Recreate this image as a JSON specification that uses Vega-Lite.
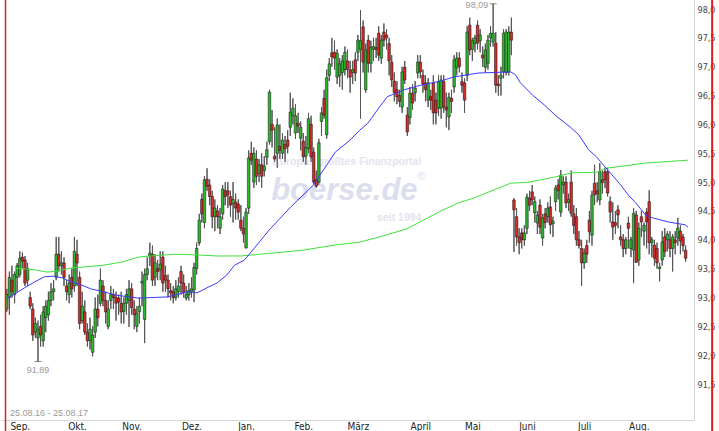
{
"$schema": "https://vega.github.io/schema/vega-lite/v6.json",
"width": 693, "height": 420,
"autosize": {"type": "none"},
"padding": {"left": 1, "top": 0, "right": 25, "bottom": 11},
"background": "white",
"config": {"view": {"stroke": null}, "font": "Liberation Sans", "locale": {"number": {"decimal": ",", "thousands": ".", "grouping": [3], "currency": ["", " €"]}}, "axis": {"labelOverlap": false}},
"data": {"values": [{"k": 1}]},
"resolve": {"axis": {"x": "independent", "y": "independent"}},
"datasets": {
"candles": [
{"i":0,"o":92.80,"h":93.15,"l":92.75,"c":93.05},{"i":1,"o":93.00,"h":93.45,"l":92.70,"c":93.35},{"i":2,"o":93.30,"h":93.55,"l":93.00,"c":93.10},{"i":3,"o":93.05,"h":93.45,"l":92.90,"c":93.40},{"i":4,"o":93.35,"h":93.60,"l":93.10,"c":93.55},
{"i":5,"o":93.40,"h":93.80,"l":93.35,"c":93.68},{"i":6,"o":93.70,"h":93.78,"l":93.50,"c":93.63},{"i":7,"o":93.65,"h":93.72,"l":93.20,"c":93.25},{"i":8,"o":93.30,"h":93.60,"l":93.20,"c":93.50},{"i":9,"o":93.00,"h":93.10,"l":92.80,"c":92.85},
{"i":10,"o":92.80,"h":92.90,"l":92.25,"c":92.35},{"i":11,"o":92.40,"h":92.65,"l":92.30,"c":92.55},{"i":12,"o":92.30,"h":92.60,"l":91.89,"c":92.45},{"i":13,"o":92.50,"h":92.70,"l":92.15,"c":92.35},{"i":14,"o":92.25,"h":92.85,"l":92.15,"c":92.75},
{"i":15,"o":92.65,"h":92.95,"l":92.40,"c":92.85},{"i":16,"o":92.70,"h":93.10,"l":92.60,"c":92.95},{"i":17,"o":92.95,"h":93.25,"l":92.85,"c":93.10},{"i":18,"o":93.10,"h":93.30,"l":92.95,"c":93.15},{"i":19,"o":93.35,"h":94.05,"l":93.30,"c":93.75},
{"i":20,"o":93.75,"h":94.05,"l":93.45,"c":93.55},{"i":21,"o":93.55,"h":93.80,"l":93.40,"c":93.60},{"i":22,"o":93.60,"h":93.70,"l":93.20,"c":93.35},{"i":23,"o":93.20,"h":93.30,"l":92.95,"c":93.10},{"i":24,"o":93.05,"h":93.40,"l":92.90,"c":93.25},
{"i":25,"o":93.35,"h":93.50,"l":93.00,"c":93.15},{"i":26,"o":93.20,"h":94.05,"l":93.10,"c":93.80},{"i":27,"o":93.75,"h":94.00,"l":93.20,"c":93.60},{"i":28,"o":93.35,"h":93.45,"l":92.45,"c":92.55},{"i":29,"o":92.60,"h":93.10,"l":92.55,"c":92.85},
{"i":30,"o":92.75,"h":92.95,"l":92.35,"c":92.40},{"i":31,"o":92.40,"h":92.55,"l":92.15,"c":92.25},{"i":32,"o":92.25,"h":92.65,"l":92.10,"c":92.45},{"i":33,"o":92.05,"h":92.50,"l":91.98,"c":92.35},{"i":34,"o":92.40,"h":93.00,"l":92.30,"c":92.80},
{"i":35,"o":92.80,"h":93.05,"l":92.50,"c":92.65},{"i":36,"o":92.90,"h":93.50,"l":92.85,"c":93.30},{"i":37,"o":93.20,"h":93.30,"l":92.85,"c":92.95},{"i":38,"o":92.95,"h":93.10,"l":92.55,"c":92.75},{"i":39,"o":92.50,"h":92.95,"l":92.45,"c":92.80},
{"i":40,"o":92.95,"h":93.20,"l":92.80,"c":93.05},{"i":41,"o":93.05,"h":93.15,"l":92.80,"c":93.00},{"i":42,"o":93.00,"h":93.10,"l":92.60,"c":92.90},{"i":43,"o":92.99,"h":93.05,"l":92.70,"c":92.92},{"i":44,"o":92.90,"h":93.10,"l":92.55,"c":92.75},
{"i":45,"o":92.76,"h":93.00,"l":92.55,"c":92.90},{"i":46,"o":92.90,"h":93.15,"l":92.70,"c":93.05},{"i":47,"o":92.95,"h":93.30,"l":92.49,"c":93.15},{"i":48,"o":93.15,"h":93.25,"l":92.70,"c":92.82},{"i":49,"o":92.80,"h":92.95,"l":92.45,"c":92.70},
{"i":50,"o":92.50,"h":92.85,"l":92.40,"c":92.73},{"i":51,"o":92.75,"h":93.00,"l":92.55,"c":92.85},{"i":52,"o":93.25,"h":93.45,"l":92.85,"c":93.28},{"i":53,"o":92.62,"h":93.50,"l":92.21,"c":93.40},{"i":54,"o":93.40,"h":93.70,"l":93.30,"c":93.50},
{"i":55,"o":93.72,"h":93.95,"l":93.55,"c":93.77},{"i":56,"o":93.75,"h":93.90,"l":93.20,"c":93.30},{"i":57,"o":93.35,"h":93.75,"l":93.20,"c":93.60},{"i":58,"o":93.50,"h":93.65,"l":93.30,"c":93.45},{"i":59,"o":93.48,"h":93.80,"l":93.30,"c":93.58},
{"i":60,"o":93.70,"h":93.80,"l":93.10,"c":93.25},{"i":61,"o":93.38,"h":93.55,"l":93.10,"c":93.30},{"i":62,"o":93.30,"h":93.40,"l":93.00,"c":93.15},{"i":63,"o":93.12,"h":93.25,"l":92.95,"c":93.08},{"i":64,"o":93.10,"h":93.20,"l":92.90,"c":93.00},
{"i":65,"o":93.00,"h":93.30,"l":92.95,"c":93.15},{"i":66,"o":93.10,"h":93.35,"l":93.00,"c":93.20},{"i":67,"o":93.45,"h":93.55,"l":93.05,"c":93.25},{"i":68,"o":93.25,"h":93.40,"l":93.00,"c":93.08},{"i":69,"o":92.99,"h":93.20,"l":92.95,"c":93.05},
{"i":70,"o":93.05,"h":93.25,"l":92.95,"c":93.12},{"i":71,"o":93.10,"h":93.35,"l":93.00,"c":93.15},{"i":72,"o":93.13,"h":93.60,"l":92.92,"c":93.52},{"i":73,"o":93.50,"h":93.95,"l":93.40,"c":93.85},{"i":74,"o":93.95,"h":94.45,"l":93.90,"c":94.34},
{"i":75,"o":94.70,"h":94.80,"l":94.30,"c":94.45},{"i":76,"o":94.30,"h":95.10,"l":94.20,"c":95.04},{"i":77,"o":95.05,"h":95.24,"l":94.85,"c":94.93},{"i":78,"o":94.95,"h":95.05,"l":94.60,"c":94.75},{"i":79,"o":94.75,"h":94.85,"l":94.20,"c":94.40},
{"i":80,"o":94.40,"h":94.70,"l":94.15,"c":94.55},{"i":81,"o":94.50,"h":94.60,"l":94.20,"c":94.40},{"i":82,"o":94.20,"h":94.55,"l":94.10,"c":94.40},{"i":83,"o":94.45,"h":94.95,"l":94.35,"c":94.88},{"i":84,"o":94.85,"h":95.00,"l":94.60,"c":94.75},
{"i":85,"o":94.85,"h":95.00,"l":94.55,"c":94.78},{"i":86,"o":94.75,"h":94.85,"l":94.40,"c":94.60},{"i":87,"o":94.62,"h":95.00,"l":94.30,"c":94.70},{"i":88,"o":94.65,"h":94.80,"l":94.35,"c":94.55},{"i":89,"o":94.62,"h":94.70,"l":94.35,"c":94.48},
{"i":90,"o":94.34,"h":94.60,"l":94.15,"c":94.20},{"i":91,"o":94.20,"h":94.40,"l":93.95,"c":94.10},{"i":92,"o":93.86,"h":94.55,"l":93.85,"c":94.48},{"i":93,"o":94.55,"h":95.55,"l":94.45,"c":95.42},{"i":94,"o":95.50,"h":95.70,"l":95.30,"c":95.38},
{"i":95,"o":95.00,"h":95.60,"l":94.90,"c":95.50},{"i":96,"o":95.40,"h":95.55,"l":94.95,"c":95.10},{"i":97,"o":95.15,"h":95.40,"l":95.00,"c":95.30},{"i":98,"o":95.30,"h":95.50,"l":94.90,"c":95.10},{"i":99,"o":95.20,"h":95.45,"l":95.10,"c":95.28},
{"i":100,"o":95.43,"h":95.70,"l":95.30,"c":95.56},{"i":101,"o":95.70,"h":96.60,"l":95.65,"c":96.56},{"i":102,"o":96.00,"h":96.25,"l":95.60,"c":95.90},{"i":103,"o":95.45,"h":95.95,"l":95.35,"c":95.40},{"i":104,"o":95.50,"h":96.10,"l":95.25,"c":95.99},
{"i":105,"o":95.62,"h":96.00,"l":95.40,"c":95.55},{"i":106,"o":95.50,"h":95.85,"l":95.40,"c":95.73},{"i":107,"o":95.65,"h":95.80,"l":95.35,"c":95.58},{"i":108,"o":95.73,"h":95.90,"l":95.50,"c":95.62},{"i":109,"o":95.95,"h":96.55,"l":95.80,"c":96.21},
{"i":110,"o":96.15,"h":96.45,"l":96.00,"c":96.28},{"i":111,"o":95.85,"h":96.35,"l":95.75,"c":96.15},{"i":112,"o":96.02,"h":96.20,"l":95.85,"c":95.97},{"i":113,"o":95.76,"h":96.05,"l":95.55,"c":95.95},{"i":114,"o":95.71,"h":95.85,"l":95.35,"c":95.44},
{"i":115,"o":95.45,"h":95.80,"l":95.30,"c":95.60},{"i":116,"o":95.58,"h":96.20,"l":95.50,"c":96.10},{"i":117,"o":96.00,"h":96.15,"l":95.35,"c":95.44},{"i":118,"o":95.52,"h":95.60,"l":94.96,"c":95.00},{"i":119,"o":95.04,"h":95.20,"l":94.90,"c":94.93},
{"i":120,"o":95.00,"h":95.75,"l":94.95,"c":95.68},{"i":121,"o":96.05,"h":96.30,"l":95.80,"c":96.20},{"i":122,"o":96.45,"h":96.60,"l":96.10,"c":96.16},{"i":123,"o":95.82,"h":96.95,"l":95.75,"c":96.81},{"i":124,"o":96.85,"h":97.15,"l":96.75,"c":97.05},
{"i":125,"o":97.24,"h":97.50,"l":97.00,"c":97.17},{"i":126,"o":97.25,"h":97.45,"l":96.95,"c":97.15},{"i":127,"o":96.82,"h":97.30,"l":96.70,"c":97.23},{"i":128,"o":96.85,"h":97.15,"l":96.65,"c":97.05},{"i":129,"o":96.90,"h":97.20,"l":96.60,"c":97.10},
{"i":130,"o":96.95,"h":97.35,"l":96.85,"c":97.25},{"i":131,"o":97.10,"h":97.30,"l":96.80,"c":96.95},{"i":132,"o":96.94,"h":97.10,"l":96.55,"c":96.82},{"i":133,"o":96.90,"h":97.10,"l":96.70,"c":96.95},{"i":134,"o":97.12,"h":97.25,"l":96.75,"c":96.89},
{"i":135,"o":97.25,"h":97.55,"l":97.10,"c":97.46},{"i":136,"o":97.30,"h":97.98,"l":96.10,"c":97.45},{"i":137,"o":97.69,"h":97.80,"l":96.90,"c":97.08},{"i":138,"o":96.60,"h":97.40,"l":96.55,"c":97.29},{"i":139,"o":97.46,"h":97.55,"l":96.90,"c":97.06},
{"i":140,"o":97.06,"h":97.45,"l":96.90,"c":97.34},{"i":141,"o":97.30,"h":97.50,"l":97.10,"c":97.35},{"i":142,"o":97.33,"h":97.50,"l":97.15,"c":97.30},{"i":143,"o":97.58,"h":97.70,"l":97.10,"c":97.20},{"i":144,"o":97.15,"h":97.55,"l":97.05,"c":97.46},
{"i":145,"o":97.60,"h":97.75,"l":97.35,"c":97.46},{"i":146,"o":97.55,"h":97.65,"l":97.30,"c":97.50},{"i":147,"o":97.40,"h":97.50,"l":96.85,"c":97.10},{"i":148,"o":97.08,"h":97.20,"l":96.65,"c":96.77},{"i":149,"o":96.75,"h":96.90,"l":96.40,"c":96.55},
{"i":150,"o":96.60,"h":96.75,"l":96.35,"c":96.48},{"i":151,"o":96.50,"h":96.60,"l":96.30,"c":96.40},{"i":152,"o":96.30,"h":97.00,"l":96.20,"c":96.91},{"i":153,"o":96.99,"h":97.10,"l":96.70,"c":96.77},{"i":154,"o":96.16,"h":96.30,"l":95.80,"c":95.87},
{"i":155,"o":96.12,"h":96.65,"l":96.00,"c":96.54},{"i":156,"o":96.54,"h":96.70,"l":96.25,"c":96.37},{"i":157,"o":96.55,"h":96.75,"l":96.40,"c":96.63},{"i":158,"o":96.89,"h":97.20,"l":96.80,"c":97.08},{"i":159,"o":97.08,"h":97.20,"l":96.80,"c":96.91},
{"i":160,"o":96.85,"h":96.95,"l":96.55,"c":96.70},{"i":161,"o":96.72,"h":96.85,"l":96.40,"c":96.60},{"i":162,"o":96.42,"h":96.80,"l":96.30,"c":96.72},{"i":163,"o":96.48,"h":96.60,"l":96.25,"c":96.42},{"i":164,"o":96.72,"h":96.85,"l":96.00,"c":96.20},
{"i":165,"o":96.42,"h":96.55,"l":96.00,"c":96.20},{"i":166,"o":96.28,"h":96.85,"l":96.15,"c":96.74},{"i":167,"o":96.28,"h":96.85,"l":96.10,"c":96.77},{"i":168,"o":96.74,"h":96.85,"l":96.20,"c":96.30},{"i":169,"o":96.30,"h":96.55,"l":95.95,"c":96.25},
{"i":170,"o":96.13,"h":96.55,"l":95.90,"c":96.47},{"i":171,"o":96.45,"h":96.60,"l":96.20,"c":96.40},{"i":172,"o":96.65,"h":97.20,"l":96.55,"c":97.12},{"i":173,"o":96.98,"h":97.25,"l":96.85,"c":97.15},{"i":174,"o":97.15,"h":97.25,"l":96.90,"c":97.00},
{"i":175,"o":96.74,"h":96.90,"l":96.55,"c":96.68},{"i":176,"o":96.72,"h":96.80,"l":96.20,"c":96.42},{"i":177,"o":96.85,"h":97.70,"l":96.75,"c":97.60},{"i":178,"o":97.72,"h":97.85,"l":97.20,"c":97.29},{"i":179,"o":97.30,"h":97.50,"l":97.10,"c":97.45},
{"i":180,"o":97.40,"h":97.55,"l":97.25,"c":97.50},{"i":181,"o":97.72,"h":97.80,"l":97.30,"c":97.41},{"i":182,"o":97.45,"h":97.65,"l":97.25,"c":97.55},{"i":183,"o":97.20,"h":97.35,"l":97.00,"c":97.15},{"i":184,"o":96.99,"h":97.40,"l":96.90,"c":97.29},
{"i":185,"o":97.06,"h":97.55,"l":96.95,"c":97.46},{"i":186,"o":97.50,"h":97.70,"l":97.35,"c":97.58},{"i":187,"o":97.43,"h":98.09,"l":97.35,"c":97.58},{"i":188,"o":97.41,"h":97.60,"l":96.55,"c":96.68},{"i":189,"o":96.70,"h":96.85,"l":96.50,"c":96.67},
{"i":190,"o":96.80,"h":97.00,"l":96.50,"c":96.85},{"i":191,"o":96.91,"h":97.65,"l":96.80,"c":97.58},{"i":192,"o":96.90,"h":97.65,"l":96.85,"c":97.60},{"i":193,"o":96.91,"h":97.70,"l":96.85,"c":97.60},{"i":194,"o":97.60,"h":97.85,"l":97.20,"c":97.46},
{"i":195,"o":94.69,"h":94.72,"l":93.79,"c":94.52},{"i":196,"o":94.40,"h":94.55,"l":93.90,"c":94.05},{"i":197,"o":94.05,"h":94.20,"l":93.75,"c":93.95},{"i":198,"o":94.12,"h":94.20,"l":93.85,"c":94.00},{"i":199,"o":94.00,"h":94.25,"l":93.90,"c":94.12},
{"i":200,"o":94.20,"h":94.80,"l":94.10,"c":94.74},{"i":201,"o":94.72,"h":94.85,"l":94.50,"c":94.60},{"i":202,"o":94.83,"h":94.95,"l":94.60,"c":94.69},{"i":203,"o":94.47,"h":94.75,"l":94.30,"c":94.66},{"i":204,"o":94.29,"h":94.50,"l":94.10,"c":94.43},
{"i":205,"o":94.60,"h":94.70,"l":94.10,"c":94.22},{"i":206,"o":94.03,"h":94.45,"l":93.90,"c":94.38},{"i":207,"o":94.45,"h":94.55,"l":94.20,"c":94.30},{"i":208,"o":94.40,"h":94.65,"l":94.30,"c":94.55},{"i":209,"o":94.57,"h":94.75,"l":94.10,"c":94.26},
{"i":210,"o":94.28,"h":94.40,"l":94.05,"c":94.32},{"i":211,"o":94.66,"h":94.95,"l":94.50,"c":94.90},{"i":212,"o":94.95,"h":95.05,"l":94.70,"c":94.85},{"i":213,"o":94.48,"h":95.21,"l":94.40,"c":95.12},{"i":214,"o":94.95,"h":95.10,"l":94.80,"c":95.00},
{"i":215,"o":95.00,"h":95.10,"l":94.55,"c":94.64},{"i":216,"o":94.65,"h":94.80,"l":94.50,"c":94.70},{"i":217,"o":95.00,"h":95.20,"l":94.40,"c":94.46},{"i":218,"o":94.45,"h":94.60,"l":94.10,"c":94.25},{"i":219,"o":94.40,"h":94.55,"l":93.90,"c":94.00},
{"i":220,"o":94.00,"h":94.15,"l":93.85,"c":93.90},{"i":221,"o":93.85,"h":94.00,"l":93.20,"c":93.60},{"i":222,"o":93.60,"h":93.85,"l":93.50,"c":93.77},{"i":223,"o":93.90,"h":94.00,"l":93.60,"c":93.75},{"i":224,"o":94.34,"h":94.50,"l":93.95,"c":94.14},
{"i":225,"o":94.08,"h":94.85,"l":93.90,"c":94.77},{"i":226,"o":94.98,"h":95.30,"l":94.60,"c":94.78},{"i":227,"o":94.85,"h":95.00,"l":94.65,"c":94.80},{"i":228,"o":94.69,"h":95.33,"l":94.60,"c":95.18},{"i":229,"o":95.04,"h":95.20,"l":94.80,"c":94.99},
{"i":230,"o":95.18,"h":95.25,"l":94.90,"c":95.04},{"i":231,"o":95.18,"h":95.25,"l":94.75,"c":94.81},{"i":232,"o":94.66,"h":94.75,"l":94.30,"c":94.48},{"i":233,"o":94.31,"h":94.65,"l":94.00,"c":94.22},{"i":234,"o":94.30,"h":94.50,"l":94.10,"c":94.25},
{"i":235,"o":94.52,"h":94.60,"l":94.20,"c":94.43},{"i":236,"o":94.05,"h":94.25,"l":93.90,"c":94.00},{"i":237,"o":94.00,"h":94.10,"l":93.70,"c":93.85},{"i":238,"o":93.85,"h":94.05,"l":93.75,"c":94.00},{"i":239,"o":94.29,"h":94.40,"l":93.85,"c":94.20},
{"i":240,"o":93.85,"h":94.05,"l":93.70,"c":94.00},{"i":241,"o":93.82,"h":94.55,"l":93.25,"c":94.46},{"i":242,"o":94.43,"h":94.50,"l":93.60,"c":93.61},{"i":243,"o":93.65,"h":94.30,"l":93.55,"c":94.20},{"i":244,"o":94.40,"h":94.50,"l":94.05,"c":94.31},
{"i":245,"o":94.15,"h":94.30,"l":93.90,"c":94.25},{"i":246,"o":94.48,"h":94.55,"l":93.85,"c":94.31},{"i":247,"o":94.66,"h":94.86,"l":93.75,"c":93.95},{"i":248,"o":93.95,"h":94.05,"l":93.70,"c":94.00},{"i":249,"o":93.91,"h":94.00,"l":93.55,"c":93.68},
{"i":250,"o":93.85,"h":93.95,"l":93.50,"c":93.60},{"i":251,"o":93.50,"h":93.60,"l":93.28,"c":93.53},{"i":252,"o":93.65,"h":94.15,"l":93.55,"c":93.96},{"i":253,"o":94.05,"h":94.20,"l":93.70,"c":93.80},{"i":254,"o":94.00,"h":94.15,"l":93.80,"c":94.10},
{"i":255,"o":94.00,"h":94.15,"l":93.70,"c":93.85},{"i":256,"o":93.85,"h":94.10,"l":93.45,"c":94.05},{"i":257,"o":94.00,"h":94.15,"l":93.75,"c":93.95},{"i":258,"o":94.03,"h":94.38,"l":93.90,"c":94.20},{"i":259,"o":94.15,"h":94.25,"l":93.75,"c":93.98},
{"i":260,"o":94.05,"h":94.10,"l":93.80,"c":93.90},{"i":261,"o":93.82,"h":93.90,"l":93.62,"c":93.68}
],
"blue": [
{"i":0.5,"v":92.99},{"i":6.9,"v":93.17},{"i":10.7,"v":93.27},{"i":14.5,"v":93.36},{"i":18.3,"v":93.37},{"i":21.3,"v":93.34},{"i":24.7,"v":93.27},{"i":28.5,"v":93.22},{"i":32.3,"v":93.15},{"i":37.2,"v":93.10},{"i":42.1,"v":93.04},{"i":50.5,"v":92.99},{"i":61.8,"v":93.01},{"i":69.4,"v":93.10},{"i":73.2,"v":93.08},{"i":77.0,"v":93.17},{"i":80.8,"v":93.25},{"i":84.6,"v":93.39},{"i":87.6,"v":93.56},{"i":91.4,"v":93.65},{"i":100.9,"v":94.17},{"i":109.2,"v":94.57},{"i":117.9,"v":94.95},{"i":126.3,"v":95.52},{"i":132.0,"v":95.73},{"i":135.7,"v":95.90},{"i":138.8,"v":96.02},{"i":143.3,"v":96.30},{"i":146.3,"v":96.48},{"i":152.8,"v":96.60},{"i":159.2,"v":96.68},{"i":166.8,"v":96.75},{"i":171.7,"v":96.82},{"i":181.2,"v":96.89},{"i":193.7,"v":96.91},{"i":195.6,"v":96.86},{"i":197.5,"v":96.72},{"i":202.1,"v":96.51},{"i":206.6,"v":96.34},{"i":211.6,"v":96.13},{"i":216.5,"v":95.96},{"i":219.9,"v":95.82},{"i":223.7,"v":95.56},{"i":226.7,"v":95.44},{"i":229.3,"v":95.30},{"i":232.4,"v":95.14},{"i":235.5,"v":94.98},{"i":238.9,"v":94.78},{"i":241.8,"v":94.64},{"i":245.6,"v":94.43},{"i":248.3,"v":94.38},{"i":254.3,"v":94.31},{"i":260.8,"v":94.26},{"i":261.9,"v":94.22}
],
"green": [
{"i":3.1,"v":93.51},{"i":10.7,"v":93.48},{"i":15.6,"v":93.44},{"i":19.4,"v":93.46},{"i":24.7,"v":93.51},{"i":29.6,"v":93.53},{"i":37.2,"v":93.56},{"i":44.8,"v":93.62},{"i":50.5,"v":93.70},{"i":55.4,"v":93.72},{"i":64.5,"v":93.75},{"i":72.1,"v":93.74},{"i":80.8,"v":93.72},{"i":90.3,"v":93.72},{"i":113.8,"v":93.82},{"i":126.3,"v":93.91},{"i":135.7,"v":93.96},{"i":143.3,"v":94.05},{"i":153.9,"v":94.19},{"i":166.0,"v":94.48},{"i":173.6,"v":94.64},{"i":179.3,"v":94.72},{"i":193.7,"v":94.98},{"i":200.9,"v":95.00},{"i":210.8,"v":95.09},{"i":217.2,"v":95.16},{"i":226.7,"v":95.17},{"i":230.5,"v":95.24},{"i":245.6,"v":95.33},{"i":261.9,"v":95.38}
],
"ext": [{"i":12,"v":91.89,"t":"91,89","p":"low"},{"i":187,"v":98.09,"t":"98,09","p":"high"}]
},
"layer": [
{"data": {"name": "candles"},
 "mark": {"type": "rule", "color": "#555555", "strokeWidth": 1},
 "encoding": {
  "x": {"field": "i", "type": "quantitative", "scale": {"domain": [-0.3, 262.3], "nice": false, "zero": false},
        "axis": {"values": [5,27,48,71,92,114,135,159,179,200,222,243], "labelExpr": "['Sep.','Okt.','Nov.','Dez.','Jan.','Feb.','März','April','Mai','Juni','Juli','Aug.'][indexof([5,27,48,71,92,114,135,159,179,200,222,243], datum.value)]", "ticks": false, "grid": false, "domainColor": "#d6d6d6", "labelFontSize": 10, "labelFont": "Liberation Sans Narrow, DejaVu Sans Condensed, Liberation Sans", "labelColor": "#222222", "labelPadding": 1, "title": null, "labelOverlap": false, "labelFlush": false}},
  "y": {"field": "l", "type": "quantitative", "scale": {"domain": [90.877, 98.156], "nice": false, "zero": false},
        "axis": {"orient": "right", "values": [91.5,92.0,92.5,93.0,93.5,94.0,94.5,95.0,95.5,96.0,96.5,97.0,97.5,98.0], "format": ".1f", "ticks": false, "grid": false, "domainColor": "#d6d6d6", "labelFontSize": 9, "labelFont": "Liberation Sans Narrow, DejaVu Sans Condensed, Liberation Sans", "labelColor": "#444444", "labelPadding": 3, "title": null, "labelFlush": false, "labelOverlap": false, "labelBound": false, "labelSeparation": 0}},
  "y2": {"field": "h"}
 }},
{"mark": {"type": "text", "text": "Europas größtes Finanzportal", "fontSize": 10.5, "fontWeight": "bold", "color": "#e3e4ef", "baseline": "middle", "align": "center"},
 "encoding": {"x": {"datum": 130.8, "type": "quantitative", "axis": null}, "y": {"datum": 95.34, "type": "quantitative", "axis": null}}},
{"mark": {"type": "text", "text": "boerse.de", "fontSize": 31, "fontWeight": "bold", "fontStyle": "italic", "color": "#dcdeed", "baseline": "middle", "align": "center"},
 "encoding": {"x": {"datum": 129.8, "type": "quantitative", "axis": null}, "y": {"datum": 94.84, "type": "quantitative", "axis": null}}},
{"mark": {"type": "text", "text": "®", "fontSize": 11, "color": "#dcdeed", "baseline": "middle", "align": "center"},
 "encoding": {"x": {"datum": 159.3, "type": "quantitative", "axis": null}, "y": {"datum": 95.08, "type": "quantitative", "axis": null}}},
{"mark": {"type": "text", "text": "seit 1994", "fontSize": 10.5, "fontWeight": "bold", "color": "#e3e4ef", "baseline": "middle", "align": "center"},
 "encoding": {"x": {"datum": 150.9, "type": "quantitative", "axis": null}, "y": {"datum": 94.37, "type": "quantitative", "axis": null}}},
{"data": {"name": "candles"},
 "mark": {"type": "rule", "color": "#555555", "strokeWidth": 1},
 "encoding": {"x": {"field": "i", "type": "quantitative", "axis": null}, "y": {"field": "l", "type": "quantitative", "axis": null}, "y2": {"field": "h"}}},
{"data": {"name": "candles"},
 "mark": {"type": "bar", "size": 2.6, "stroke": "#111111", "strokeWidth": 0.5},
 "encoding": {
  "x": {"field": "i", "type": "quantitative", "axis": null},
  "y": {"field": "o", "type": "quantitative", "axis": null},
  "y2": {"field": "c"},
  "color": {"condition": {"test": "datum.c >= datum.o", "value": "#2db52d"}, "value": "#d12b2b"}
 }},
{"data": {"name": "green"},
 "mark": {"type": "line", "color": "#3ee03e", "strokeWidth": 1},
 "encoding": {"x": {"field": "i", "type": "quantitative", "axis": null}, "y": {"field": "v", "type": "quantitative", "axis": null}}},
{"data": {"name": "blue"},
 "mark": {"type": "line", "color": "#3a3aff", "strokeWidth": 1},
 "encoding": {"x": {"field": "i", "type": "quantitative", "axis": null}, "y": {"field": "v", "type": "quantitative", "axis": null}}},
{"data": {"name": "ext"},
 "mark": {"type": "tick", "orient": "horizontal", "size": 7, "thickness": 1, "color": "#555555"},
 "encoding": {"x": {"field": "i", "type": "quantitative", "axis": null}, "y": {"field": "v", "type": "quantitative", "axis": null}}},
{"data": {"name": "ext"},
 "transform": [{"filter": "datum.p == 'low'"}],
 "mark": {"type": "text", "fontSize": 9, "color": "#999999", "baseline": "middle", "align": "center", "dy": 8},
 "encoding": {"x": {"field": "i", "type": "quantitative", "axis": null}, "y": {"field": "v", "type": "quantitative", "axis": null}, "text": {"field": "t"}}},
{"data": {"name": "ext"},
 "transform": [{"filter": "datum.p == 'high'"}],
 "mark": {"type": "text", "fontSize": 9, "color": "#999999", "baseline": "top", "align": "right", "dx": -5, "dy": -3},
 "encoding": {"x": {"field": "i", "type": "quantitative", "axis": null}, "y": {"field": "v", "type": "quantitative", "axis": null}, "text": {"field": "t"}}},
{"mark": {"type": "text", "text": "25.08.16 - 25.08.17", "fontSize": 9, "color": "#9a9a9a", "baseline": "middle", "align": "left"},
 "encoding": {"x": {"datum": 1.2, "type": "quantitative", "axis": null}, "y": {"datum": 91.0, "type": "quantitative", "axis": null}}},
{"mark": {"type": "rule", "color": "#e8191c", "strokeWidth": 1.5},
 "encoding": {"x": {"datum": -0.49, "type": "quantitative", "axis": null}, "y": {"datum": 98.2, "type": "quantitative", "axis": null}, "y2": {"datum": 90.66}}},
{"mark": {"type": "rule", "color": "#e8191c", "strokeWidth": 2},
 "encoding": {"x": {"datum": 271.2, "type": "quantitative", "axis": null}, "y": {"datum": 98.2, "type": "quantitative", "axis": null}, "y2": {"datum": 90.66}}}
]
}
